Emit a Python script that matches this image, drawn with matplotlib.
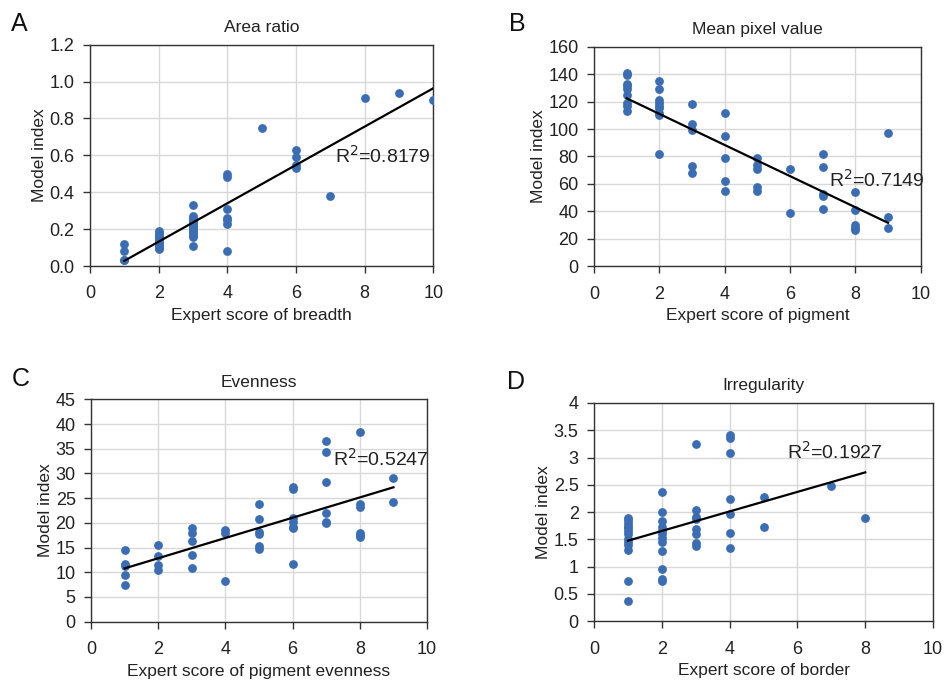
import numpy as np
import matplotlib.pyplot as plt

plt.rcParams['font.family'] = ['Liberation Sans', 'DejaVu Sans']

# panel A: area ratio vs expert score of breadth
a_x = [1]*4 + [2]*11 + [3]*14 + [4]*7 + [5] + [6]*4 + [7, 8, 9, 10]
a_y = [0.12, 0.08, 0.03, 0.03,
       0.19, 0.18, 0.17, 0.16, 0.15, 0.14, 0.13, 0.12, 0.11, 0.10, 0.09,
       0.33, 0.27, 0.26, 0.25, 0.24, 0.23, 0.22, 0.21, 0.20, 0.19, 0.18, 0.17, 0.16, 0.11,
       0.50, 0.48, 0.31, 0.26, 0.25, 0.23, 0.08,
       0.75,
       0.63, 0.59, 0.55, 0.53,
       0.38, 0.91, 0.94, 0.90]

# panel B: mean pixel value vs expert score of pigment
b_x = [1]*9 + [2]*9 + [3]*5 + [4]*5 + [5]*5 + [6]*2 + [7]*5 + [8]*5 + [9]*3
b_y = [141, 139, 133, 131, 129, 125, 119, 117, 113,
       135, 129, 121, 119, 117, 115, 112, 110, 82,
       118, 104, 99, 73, 68,
       112, 95, 79, 62, 55,
       79, 74, 71, 58, 55,
       71, 39,
       82, 72, 53, 51, 42,
       54, 41, 30, 28, 26.5,
       97, 36, 28]

# panel C: evenness vs expert score of pigment evenness
c_x = [1]*5 + [2]*4 + [3]*5 + [4]*3 + [5]*6 + [6]*7 + [7]*6 + [8]*6 + [9]*2
c_y = [14.5, 11.6, 11.2, 9.5, 7.5,
       15.6, 13.2, 11.5, 10.5,
       19.0, 18.0, 16.3, 13.5, 10.8,
       18.5, 18.0, 8.3,
       23.9, 20.8, 18.1, 17.7, 15.4, 14.7,
       27.3, 26.9, 20.9, 20.1, 19.2, 18.9, 11.6,
       36.5, 34.3, 28.3, 22.0, 20.2, 19.9,
       38.4, 23.9, 23.3, 18.0, 17.5, 17.1,
       29.0, 24.2]

# panel D: irregularity vs expert score of border
d_x = [1]*13 + [2]*12 + [3]*8 + [4]*7 + [5]*2 + [7, 8]
d_y = [1.90, 1.85, 1.80, 1.75, 1.70, 1.65, 1.60, 1.50, 1.45, 1.40, 1.30, 0.74, 0.38,
       2.36, 2.01, 1.84, 1.73, 1.66, 1.60, 1.52, 1.45, 1.29, 0.95, 0.77, 0.73,
       3.24, 2.04, 1.91, 1.87, 1.69, 1.60, 1.43, 1.37,
       3.41, 3.35, 3.09, 2.24, 1.96, 1.61, 1.35,
       2.27, 1.72,
       2.48, 1.90]

panels = [
    dict(letter="A", title="Area ratio", xlabel="Expert score of breadth",
         x=a_x, y=a_y, r2="0.8179", ylim=(0, 1.2), ystep=0.2, yfmt="{:.1f}",
         txt=(7.15, 0.60), pos=[0.0951, 0.6111, 0.3629, 0.3235], lpos=(0.012, 0.955)),
    dict(letter="B", title="Mean pixel value", xlabel="Expert score of pigment",
         x=b_x, y=b_y, r2="0.7149", ylim=(0, 160), ystep=20, yfmt="{:.0f}",
         txt=(7.2, 63), pos=[0.6279, 0.6107, 0.3453, 0.3211], lpos=(0.538, 0.955)),
    dict(letter="C", title="Evenness", xlabel="Expert score of pigment evenness",
         x=c_x, y=c_y, r2="0.5247", ylim=(0, 45), ystep=5, yfmt="{:.0f}",
         txt=(7.2, 33), pos=[0.0962, 0.0911, 0.3552, 0.3251], lpos=(0.012, 0.435)),
    dict(letter="D", title="Irregularity", xlabel="Expert score of border",
         x=d_x, y=d_y, r2="0.1927", ylim=(0, 4), ystep=0.5, yfmt="{:g}",
         txt=(5.7, 3.1), pos=[0.6279, 0.0917, 0.3584, 0.3192], lpos=(0.536, 0.432)),
]

fig = plt.figure(figsize=(9.46, 6.84), dpi=100)

for p in panels:
    ax = fig.add_axes(p["pos"])
    x = np.array(p["x"], dtype=float)
    y = np.array(p["y"], dtype=float)
    ax.scatter(x, y, s=40, color="#3a6db4", zorder=3, linewidths=0)

    k, b = np.polyfit(x, y, 1)
    xs = np.array([x.min(), x.max()])
    ax.plot(xs, k * xs + b, color="black", lw=1.6, zorder=4)

    ax.set_xlim(0, 10)
    ax.set_ylim(*p["ylim"])
    ax.set_xticks(range(0, 11, 2))
    yt = np.arange(p["ylim"][0], p["ylim"][1] + p["ystep"] / 2, p["ystep"])
    ax.set_yticks(yt)
    ax.set_yticklabels([p["yfmt"].format(v) for v in yt])
    ax.grid(True, color="#d8d8d8", lw=1.0, zorder=0)
    ax.set_axisbelow(True)
    for sp in ax.spines.values():
        sp.set_color("#333333")
        sp.set_linewidth(1.0)
    ax.tick_params(direction="out", length=5, width=1, color="#333333",
                   labelsize=13, labelcolor="#222222", pad=6)
    ax.tick_params(axis="x", pad=9)

    ax.set_title(p["title"], fontsize=12.5, color="#222222", pad=9)
    ax.set_xlabel(p["xlabel"], fontsize=12.5, color="#222222", labelpad=4)
    ax.set_ylabel("Model index", fontsize=12.5, color="#222222", labelpad=2)
    ax.text(p["txt"][0], p["txt"][1], "R$^2$=" + p["r2"], fontsize=14,
            color="#222222", ha="left", va="center", zorder=5)
    fig.text(p["lpos"][0], p["lpos"][1], p["letter"], fontsize=18, color="#111111",
             ha="left", va="baseline")

fig.savefig("out.png", dpi=100)
